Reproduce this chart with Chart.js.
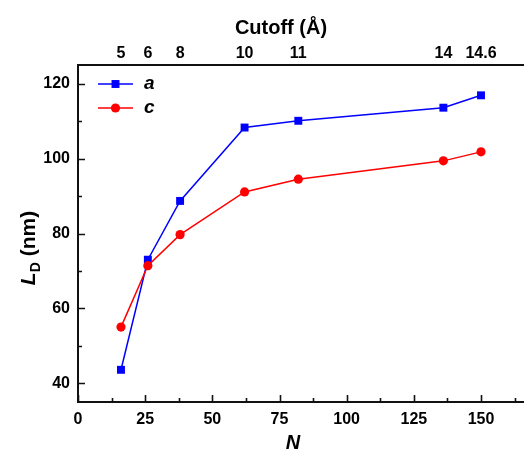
<!DOCTYPE html>
<html><head><meta charset="utf-8">
<script src="https://cdn.jsdelivr.net/npm/chart.js@4/dist/chart.umd.min.js"></script>
<style>
html,body{margin:0;padding:0;background:#fff;overflow:hidden;width:524px;height:450px}
#wrap{position:absolute;left:0;top:0;width:640px;height:450px}
</style></head>
<body><div id="wrap"><canvas id="c" width="640" height="450"></canvas></div>
<script>
const nValues = [16, 26, 38, 62, 82, 136, 150];
const seriesA = [43.6, 73.0, 88.7, 108.3, 110.1, 113.6, 116.9];
const seriesC = [55.0, 71.4, 79.7, 91.1, 94.5, 99.4, 101.8];
const cutoffLabels = ['5', '6', '8', '10', '11', '14', '14.6'];
const xTicks = [0, 25, 50, 75, 100, 125, 150];
const xMinor = [12.5, 37.5, 62.5, 87.5, 112.5, 137.5, 162.5];
const yTicks = [40, 60, 80, 100, 120];
const yMinor = [50, 70, 90, 110];
const legendNames = ['a', 'c'];
const xTitle = 'N';
const x2Title = 'Cutoff (Å)';

const FONT = "'Liberation Sans', Arial, sans-serif";
const L = 78, T = 65, B = 402, W = 640, H = 450, PADR = 20;
// the plot box runs past the right edge of the window, as in the reference
const XMAX = (W - PADR - L) / (403 / 150);

const tickPlugin = {
  id: 'ticksIn',
  afterDatasetsDraw(chart) {
    const ctx = chart.ctx, a = chart.chartArea;
    const xs = chart.scales.x, ys = chart.scales.y;
    ctx.save();
    ctx.strokeStyle = '#111';
    ctx.lineWidth = 1.6;
    ctx.beginPath();
    yTicks.forEach(v => { const p = Math.round(ys.getPixelForValue(v)) + 0.5; ctx.moveTo(a.left, p); ctx.lineTo(a.left + 7, p); });
    yMinor.forEach(v => { const p = Math.round(ys.getPixelForValue(v)) + 0.5; ctx.moveTo(a.left, p); ctx.lineTo(a.left + 4, p); });
    xTicks.forEach(v => { const p = Math.round(xs.getPixelForValue(v)) + 0.5; ctx.moveTo(p, a.bottom); ctx.lineTo(p, a.bottom - 7); });
    xMinor.forEach(v => { const p = Math.round(xs.getPixelForValue(v)) + 0.5; ctx.moveTo(p, a.bottom); ctx.lineTo(p, a.bottom - 4); });
    ctx.stroke();

    // legend
    const ds = chart.data.datasets;
    const rows = [84, 108];
    [0, 1].forEach((i, k) => {
      const d = ds[i], y = rows[k];
      ctx.strokeStyle = d.borderColor; ctx.lineWidth = d.borderWidth;
      ctx.beginPath(); ctx.moveTo(98, y); ctx.lineTo(133, y); ctx.stroke();
      ctx.fillStyle = d.pointBackgroundColor;
      if (d.pointStyle === 'rect') { const s = d.pointRadius * Math.SQRT1_2; ctx.fillRect(115.5 - s, y - s, 2 * s, 2 * s); }
      else { ctx.beginPath(); ctx.arc(115.5, y, d.pointRadius, 0, Math.PI * 2); ctx.fill(); }
      ctx.fillStyle = '#000';
      ctx.font = "italic bold 19px " + FONT;
      ctx.textBaseline = 'middle'; ctx.textAlign = 'left';
      ctx.fillText(d.label, 144, y);
    });

    // axis titles
    ctx.fillStyle = '#000';
    ctx.textAlign = 'center'; ctx.textBaseline = 'middle';
    ctx.font = "bold 20px " + FONT;
    ctx.fillText(x2Title, 281, 28);
    ctx.font = "italic bold 20px " + FONT;
    ctx.fillText(xTitle, 293, 443);

    // y title with subscript
    ctx.save();
    ctx.translate(35, 248);
    ctx.rotate(-Math.PI / 2);
    ctx.textAlign = 'left';
    ctx.textBaseline = 'alphabetic';
    const f1 = "italic bold 21px " + FONT, f2 = "bold 14px " + FONT, f3 = "bold 21px " + FONT;
    ctx.font = f1; const w1 = ctx.measureText('L').width;
    ctx.font = f2; const w2 = ctx.measureText('D').width;
    ctx.font = f3; const w3 = ctx.measureText(' (nm)').width;
    let x0 = -(w1 + w2 + w3) / 2;
    ctx.font = f1; ctx.fillText('L', x0, 0); x0 += w1;
    ctx.font = f2; ctx.fillText('D', x0, 5); x0 += w2;
    ctx.font = f3; ctx.fillText(' (nm)', x0, 0);
    ctx.restore();
    ctx.restore();
  }
};

new Chart(document.getElementById('c'), {
  type: 'line',
  data: {
    datasets: [
      { label: legendNames[0], data: nValues.map((n, i) => ({ x: n, y: seriesA[i] })),
        borderColor: '#0000ff', backgroundColor: '#0000ff', pointBackgroundColor: '#0000ff', pointBorderColor: '#0000ff',
        borderWidth: 1.5, pointStyle: 'rect', pointRadius: 5.6, pointBorderWidth: 0, tension: 0, order: 1 },
      { label: legendNames[1], data: nValues.map((n, i) => ({ x: n, y: seriesC[i] })),
        borderColor: '#ff0000', backgroundColor: '#ff0000', pointBackgroundColor: '#ff0000', pointBorderColor: '#ff0000',
        borderWidth: 1.5, pointStyle: 'circle', pointRadius: 4.6, pointBorderWidth: 0, tension: 0, order: 0 }
    ]
  },
  options: {
    responsive: false, animation: false, devicePixelRatio: 1,
    layout: { padding: { left: 0, right: PADR, top: 0, bottom: 0 } },
    plugins: { legend: { display: false }, tooltip: { enabled: false } },
    scales: {
      x: {
        type: 'linear', position: 'bottom', min: 0, max: XMAX,
        afterBuildTicks: s => { s.ticks = xTicks.map(v => ({ value: v })); },
        afterFit: s => { s.height = H - B; },
        grid: { display: false, drawTicks: false },
        border: { display: true, color: '#111', width: 2 },
        ticks: { autoSkip: false, maxRotation: 0, padding: 8, color: '#000', font: { family: FONT, size: 16, weight: 'bold' } },
        title: { display: false }
      },
      x2: {
        type: 'linear', position: 'top', min: 0, max: XMAX,
        afterBuildTicks: s => { s.ticks = nValues.map(v => ({ value: v })); },
        afterFit: s => { s.height = T; },
        grid: { display: false, drawTicks: false },
        border: { display: true, color: '#111', width: 2 },
        ticks: { autoSkip: false, maxRotation: 0, padding: 2, color: '#000',
          callback: (v) => { const i = nValues.indexOf(v); return i >= 0 ? cutoffLabels[i] : ''; },
          font: { family: FONT, size: 16, weight: 'bold' } },
        title: { display: false }
      },
      y: {
        type: 'linear', position: 'left', min: 35, max: 125,
        afterBuildTicks: s => { s.ticks = yTicks.map(v => ({ value: v })); },
        afterFit: s => { s.width = L; },
        grid: { display: false, drawTicks: false },
        border: { display: true, color: '#111', width: 2 },
        ticks: { padding: 8, color: '#000', font: { family: FONT, size: 16, weight: 'bold' } }
      }
    }
  },
  plugins: [tickPlugin]
});
</script></body></html>
